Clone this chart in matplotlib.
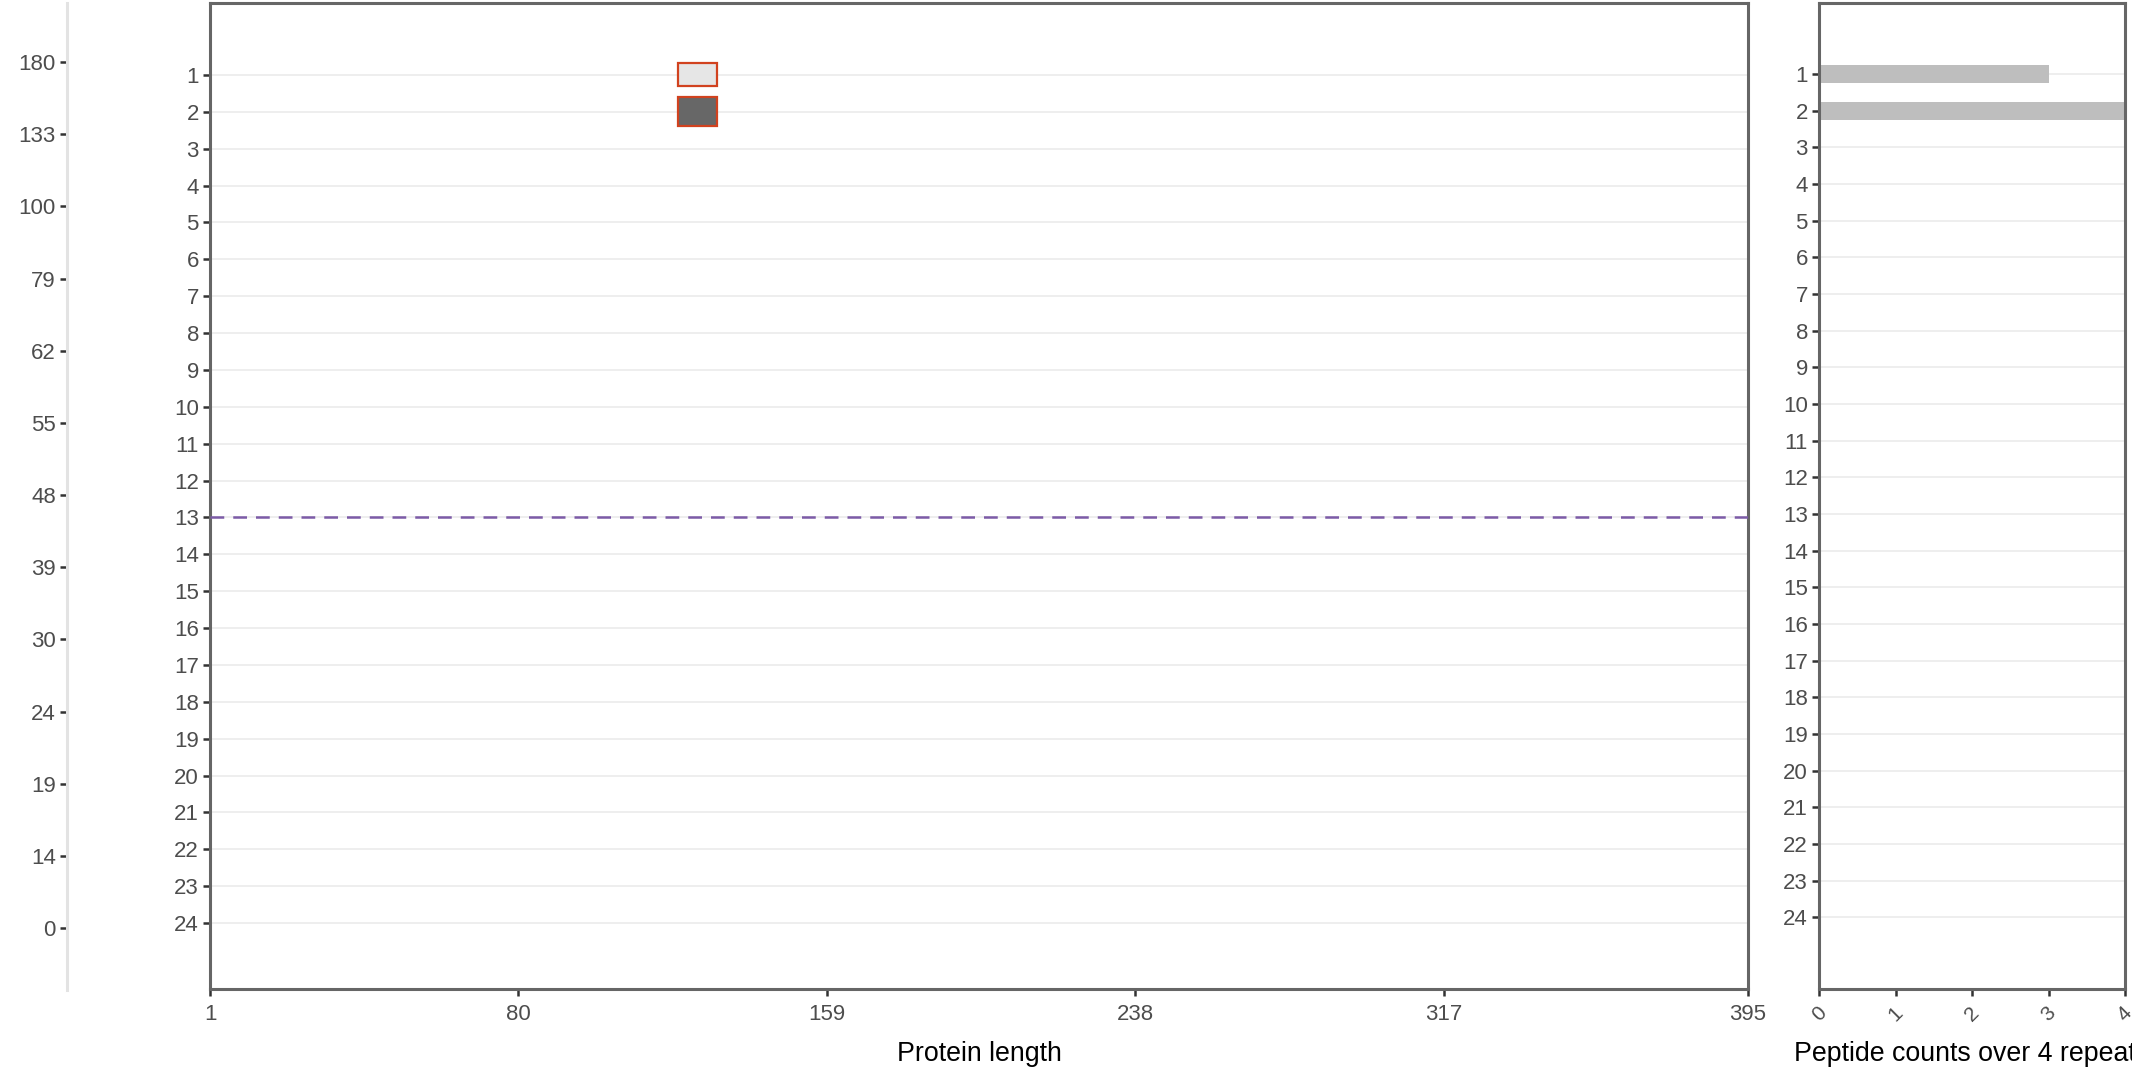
import numpy as np
import matplotlib.pyplot as plt
from matplotlib.patches import Rectangle

plt.rcParams['font.family'] = ['Liberation Sans', 'DejaVu Sans']

# data
rows = list(range(1, 25))
ladder = [180, 133, 100, 79, 62, 55, 48, 39, 30, 24, 19, 14, 0]
pep_rows = [1, 2]
pep_start = [121, 121]
pep_end = [131, 131]
pep_half = [0.31, 0.39]
pep_fill = ['#e6e6e6', '#676767']
counts = [3, 4]
x_ticks = [1, 80, 159, 238, 317, 395]
count_ticks = [0, 1, 2, 3, 4]
cut_row = 13

W, H = 2132, 1067
fig = plt.figure(figsize=(W / 100, H / 100), dpi=100)

def box(x0, y0, x1, y1):
    return [x0 / W, 1 - y1 / H, (x1 - x0) / W, (y1 - y0) / H]

tick_col = '#4d4d4d'
border = '#666666'
grid = '#ebebeb'
fs = 16

# ladder axis on the left
ax0 = fig.add_axes(box(67, 3, 68, 990))
ax0.set_xlim(0, 1)
ax0.set_ylim(13.86, 0.18)
ax0.set_yticks(range(1, len(ladder) + 1))
ax0.set_yticklabels([str(v) for v in ladder])
ax0.set_xticks([])
for s in ['top', 'right', 'bottom']:
    ax0.spines[s].set_visible(False)
ax0.spines['left'].set_color('#e3e3e3')
ax0.spines['left'].set_linewidth(2.2)
ax0.tick_params(axis='y', length=5, width=1.8, color='#333333',
                labelcolor=tick_col, labelsize=fs, pad=3)
ax0.patch.set_visible(False)

# main panel
ax = fig.add_axes(box(210, 3, 1748, 989))
ax.set_xlim(1, 395)
ax.set_ylim(25.79, -0.95)
ax.set_yticks(rows)
ax.set_xticks(x_ticks)
for r in rows:
    ax.axhline(r, color=grid, lw=1.2, zorder=0)
for r, a, b, h, c in zip(pep_rows, pep_start, pep_end, pep_half, pep_fill):
    ax.add_patch(Rectangle((a, r - h), b - a, 2 * h, facecolor=c,
                           edgecolor='#d1421f', lw=1.6, zorder=3))
ax.axhline(cut_row, color='#7c5ba7', lw=1.8, ls=(0, (5.5, 3.6)), zorder=4)
ax.set_xlabel('Protein length', fontsize=19.3, labelpad=11)
for s in ax.spines.values():
    s.set_color(border)
    s.set_linewidth(2.2)
ax.tick_params(length=5, width=1.8, color='#333333', labelcolor=tick_col,
               labelsize=fs, pad=3)
ax.tick_params(axis='x', pad=6)

# peptide counts panel
ax2 = fig.add_axes(box(1819, 3, 2125, 989))
ax2.set_xlim(0, 4)
ax2.set_ylim(25.96, -0.94)
ax2.set_yticks(rows)
ax2.set_xticks(count_ticks)
for r in rows:
    ax2.axhline(r, color=grid, lw=1.2, zorder=0)
ax2.barh(pep_rows, counts, height=0.5, color='#bebebe', zorder=2)
for s in ax2.spines.values():
    s.set_color(border)
    s.set_linewidth(2.2)
ax2.tick_params(length=5, width=1.8, color='#333333', labelcolor=tick_col,
                labelsize=fs, pad=3)
ax2.tick_params(axis='x', labelrotation=45, labelsize=15, pad=5)
ax2.set_xlabel('Peptide counts over 4 repeats', fontsize=19.3, labelpad=12)

fig.savefig('out.png', dpi=100)
